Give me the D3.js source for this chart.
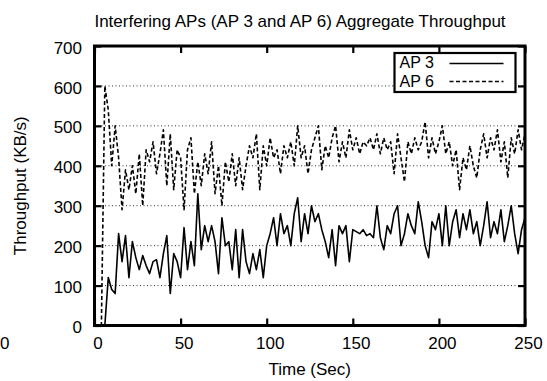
<!DOCTYPE html>
<html>
<head>
<meta charset="utf-8">
<script src="https://cdn.jsdelivr.net/npm/d3@7"></script>
<style>
  body { margin: 0; background: #fff; }
  text { font-family: "Liberation Sans", Arial, sans-serif; fill: #000; }
</style>
</head>
<body>
<div id="chart"></div>
<script>
const width = 547;
const height = 381;
const margin = { top: 46, right: 22, bottom: 55.5, left: 94.5 };

// Sample spacing in seconds
const timeStep = 2;

// AP 3 throughput (KB/s), one value every 2 s from t = 0
const ap3 = [
  0, 0, 0, 0, 120, 90, 80, 230, 160, 225,
  120, 210, 170, 140, 175, 150, 130, 160, 165, 120,
  180, 225, 80, 180, 160, 120, 245, 140, 210, 150,
  330, 190, 250, 210, 250, 210, 130, 270, 200, 210,
  140, 240, 120, 240, 160, 130, 180, 140, 190, 120,
  200, 230, 270, 200, 280, 230, 250, 200, 280, 320,
  210, 280, 230, 300, 260, 280, 240, 210, 170, 240,
  150, 250, 230, 250, 160, 240, 235, 230, 240, 225,
  230, 220, 300, 220, 190, 250, 230, 280, 300, 200,
  230, 280, 250, 230, 310, 260, 200, 170, 260, 240,
  280, 200, 300, 200, 260, 290, 220, 280, 240, 290,
  230, 260, 200, 250, 310, 220, 260, 230, 290, 210,
  250, 300, 230, 180, 240, 270
];

// AP 6 throughput (KB/s), same sampling
const ap6 = [
  0, 0, 0, 600, 540, 400, 500, 420, 290, 390,
  340, 400, 330, 430, 300, 440, 410, 460, 380, 430,
  490, 350, 480, 340, 440, 420, 290, 440, 470, 330,
  410, 350, 430, 380, 460, 330, 400, 300, 410, 360,
  430, 350, 420, 340, 400, 450, 420, 480, 340, 450,
  400, 470, 420, 440, 380, 450, 420, 460, 400, 500,
  420, 450, 380, 440, 470, 500, 390, 450, 420, 470,
  500, 410, 460, 420, 490, 440, 470, 430, 460, 450,
  470, 440, 480, 430, 470, 440, 460, 380, 480, 420,
  360, 460, 430, 470, 440, 460, 510, 420, 470, 430,
  460, 500, 430, 460, 400, 440, 340, 420, 390, 450,
  400, 370, 440, 480, 420, 470, 440, 490, 410, 460,
  370, 470, 430, 490, 440, 480
];

const xTicks = [0, 50, 100, 150, 200, 250];
const yTicks = [0, 100, 200, 300, 400, 500, 600, 700];
const gridValues = [100, 200, 300, 400, 500, 600];

const series = [
  { name: 'AP 3', values: ap3, dash: null },
  { name: 'AP 6', values: ap6, dash: '4,2.5' }
];

const fontSize = '17px';
const innerW = width - margin.left - margin.right;
const innerH = height - margin.top - margin.bottom;

const svg = d3.select('#chart')
  .append('svg')
  .attr('width', width)
  .attr('height', height);

const g = svg.append('g')
  .attr('transform', `translate(${margin.left}, ${margin.top})`);

// Scales
const x = d3.scaleLinear().domain([0, 250]).range([0, innerW]);
const y = d3.scaleLinear().domain([0, 700]).range([innerH, 0]);

// Dotted horizontal grid
g.selectAll('line.grid')
  .data(gridValues)
  .join('line')
  .attr('class', 'grid')
  .attr('x1', 0)
  .attr('x2', innerW)
  .attr('y1', d => y(d))
  .attr('y2', d => y(d))
  .attr('stroke', '#333')
  .attr('stroke-width', 1)
  .attr('stroke-dasharray', '1,2.5');

// Clip the data to the plot frame
svg.append('defs').append('clipPath')
  .attr('id', 'plot-clip')
  .append('rect')
  .attr('width', innerW)
  .attr('height', innerH);

const line = d3.line()
  .x((d, i) => x(i * timeStep))
  .y(d => y(d));

g.append('g')
  .attr('clip-path', 'url(#plot-clip)')
  .selectAll('path')
  .data(series)
  .join('path')
  .attr('fill', 'none')
  .attr('stroke', '#000')
  .attr('stroke-width', 1.6)
  .attr('stroke-linejoin', 'round')
  .attr('stroke-dasharray', d => d.dash)
  .attr('d', d => line(d.values));

// Axes: ticks inward on all four sides, labels on left and bottom
const tickLen = 7;

const xBottom = g.append('g')
  .attr('transform', `translate(0,${innerH})`)
  .call(d3.axisBottom(x).tickValues(xTicks).tickSizeInner(-tickLen).tickSizeOuter(0).tickPadding(11));
const xTop = g.append('g')
  .call(d3.axisTop(x).tickValues(xTicks).tickSizeInner(-tickLen).tickSizeOuter(0).tickFormat(''));
const yLeft = g.append('g')
  .call(d3.axisLeft(y).tickValues(yTicks).tickSizeInner(-tickLen).tickSizeOuter(0).tickPadding(12.5));
const yRight = g.append('g')
  .attr('transform', `translate(${innerW},0)`)
  .call(d3.axisRight(y).tickValues(yTicks).tickSizeInner(-tickLen).tickSizeOuter(0).tickFormat(''));

[xBottom, xTop, yLeft, yRight].forEach(ax => {
  ax.select('.domain').remove();
  ax.selectAll('.tick line').attr('stroke', '#000').attr('stroke-width', 2.2);
  ax.selectAll('text').attr('font-size', fontSize).attr('fill', '#000');
});
xBottom.selectAll('text').attr('dx', 3);
yLeft.selectAll('text').attr('dy', '0.42em');

// Frame
g.append('rect')
  .attr('width', innerW)
  .attr('height', innerH)
  .attr('fill', 'none')
  .attr('stroke', '#000')
  .attr('stroke-width', 3);

// Legend
const legend = g.append('g')
  .attr('transform', `translate(${394.5 - margin.left}, ${53 - margin.top})`);

legend.append('rect')
  .attr('width', 121)
  .attr('height', 39)
  .attr('fill', '#fff')
  .attr('stroke', '#000')
  .attr('stroke-width', 2.2);

legend.selectAll('text')
  .data(series)
  .join('text')
  .attr('x', 5)
  .attr('y', (d, i) => 15 + i * 18.5)
  .attr('font-size', '16px')
  .text(d => d.name);

legend.selectAll('line')
  .data(series)
  .join('line')
  .attr('x1', 55)
  .attr('x2', 109)
  .attr('y1', (d, i) => 10.5 + i * 18)
  .attr('y2', (d, i) => 10.5 + i * 18)
  .attr('stroke', '#000')
  .attr('stroke-width', 1.4)
  .attr('stroke-dasharray', d => d.dash);

// Title and axis labels
svg.append('text')
  .attr('x', 300)
  .attr('y', 27)
  .attr('text-anchor', 'middle')
  .style('font-size', fontSize)
  .text('Interfering APs (AP 3 and AP 6) Aggregate Throughput');

svg.append('text')
  .attr('x', margin.left + innerW / 2)
  .attr('y', 375)
  .attr('text-anchor', 'middle')
  .style('font-size', fontSize)
  .text('Time (Sec)');

svg.append('text')
  .attr('transform', `translate(26, ${margin.top + innerH / 2}) rotate(-90)`)
  .attr('text-anchor', 'middle')
  .style('font-size', fontSize)
  .text('Throughput (KB/s)');

// Stray tick label at the left edge, as in the original plot
svg.append('text')
  .attr('x', 0)
  .attr('y', 349)
  .attr('text-anchor', 'start')
  .style('font-size', fontSize)
  .text('0');
</script>
</body>
</html>
